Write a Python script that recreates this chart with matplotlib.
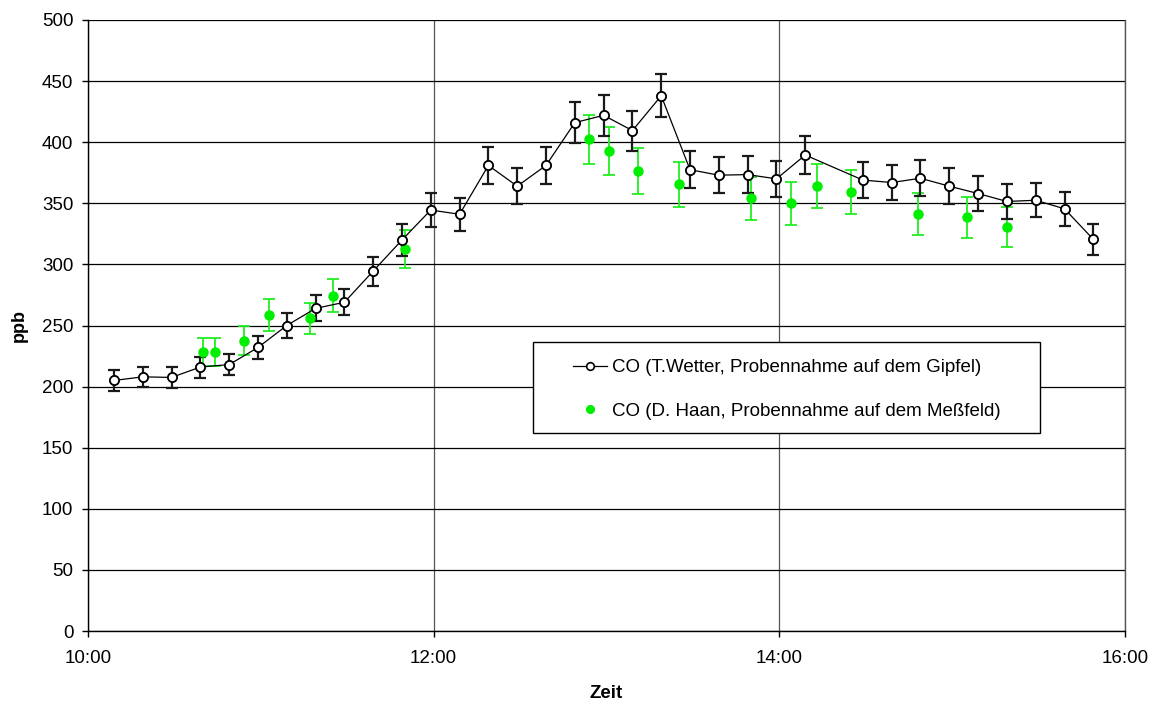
import matplotlib
matplotlib.use("Agg")
import matplotlib.pyplot as plt
from matplotlib.patches import Rectangle

plt.rcParams['font.family'] = ['Liberation Sans', 'DejaVu Sans']

# --- data (time in minutes after 10:00) ---
wetter_t = [9, 19, 29, 39, 49, 59, 69, 79, 89, 99, 109, 119, 129, 139, 149, 159,
            169, 179, 189, 199, 209, 219, 229, 239, 249,
            269, 279, 289, 299, 309, 319, 329, 339, 349]
wetter_co = [205, 208, 207.5, 216, 218, 232, 250, 264, 269, 294.5, 320, 344.5, 341,
             381, 364, 381, 416, 422, 409.5, 438, 377.5, 373, 373.5, 370, 389.5,
             369, 367, 370.5, 364, 358, 351.5, 352.5, 345.5, 320.5]
wetter_err = [8.2, 8.3, 8.3, 8.6, 8.7, 9.3, 10.0, 10.6, 10.8, 11.8, 12.8, 13.8, 13.6,
              15.2, 14.6, 15.2, 16.6, 16.9, 16.4, 17.5, 15.1, 14.9, 14.9, 14.8, 15.6,
              14.8, 14.7, 14.8, 14.6, 14.3, 14.1, 14.1, 13.8, 12.8]

haan_t = [40, 44, 54, 63, 77, 85, 110, 174, 181, 191, 205, 230, 244, 253, 265, 288, 305, 319]
haan_co = [228.5, 228.5, 237.5, 258.5, 256, 274.5, 312.5, 402.5, 392.5, 376.5, 365.5,
           354, 350, 364, 359, 341, 338.5, 330.5]
haan_err = [11.4, 11.4, 11.9, 12.9, 12.8, 13.7, 15.6, 20.1, 19.6, 18.8, 18.3, 17.7,
            17.5, 18.2, 18.0, 17.1, 16.9, 16.5]

x_ticks = [0, 120, 240, 360]
x_ticklabels = ['10:00', '12:00', '14:00', '16:00']
y_ticks = list(range(0, 501, 50))

label_wetter = 'CO (T.Wetter, Probennahme auf dem Gipfel)'
label_haan = 'CO (D. Haan, Probennahme auf dem Meßfeld)'

green = '#00ee00'

fig = plt.figure(figsize=(11.5, 7.01), dpi=100)
ax = fig.add_axes([88/1150, 1 - 631/701, (1125-88)/1150, (631-20)/701])

# error bars
ax.errorbar(haan_t, haan_co, yerr=haan_err, fmt='none', ecolor='#22ee22',
            elinewidth=1.3, capsize=4.0, capthick=1.3, zorder=3)
ax.errorbar(wetter_t, wetter_co, yerr=wetter_err, fmt='none', ecolor='#1a1a1a',
            elinewidth=1.6, capsize=4.0, capthick=1.6, zorder=4)

# series
l1, = ax.plot(wetter_t, wetter_co, color='black', lw=0.9, marker='o', ms=6.5,
              mfc='white', mec='black', mew=1.2, zorder=6, label=label_wetter)
l2, = ax.plot(haan_t, haan_co, ls='none', marker='o', ms=6.5, mfc=green, mec=green,
              zorder=5, label=label_haan)
ax.plot(wetter_t, wetter_co, ls='none', marker='o', ms=6.5, mfc='white', mec='black',
        mew=1.2, zorder=7)

ax.set_xlim(0, 360)
ax.set_ylim(0, 500)
ax.set_xticks(x_ticks)
ax.set_xticklabels(x_ticklabels)
ax.set_yticks(y_ticks)

ax.yaxis.grid(True, color='black', lw=0.9)
ax.xaxis.grid(True, color='#555555', lw=0.9)
ax.set_axisbelow(True)

for s in ax.spines.values():
    s.set_color('black')
    s.set_linewidth(1.0)
ax.spines['top'].set_visible(False)
ax.spines['right'].set_color('#555555')

ax.tick_params(axis='y', direction='out', length=4.5, width=1, pad=6, labelsize=13.5)
ax.tick_params(axis='x', direction='out', length=4, width=1, pad=10, labelsize=13.5)

ax.set_xlabel('Zeit', fontsize=13.5, fontweight='bold', labelpad=13)
ax.set_ylabel('ppb', fontsize=13, fontweight='bold', labelpad=10)

# legend box
rect = Rectangle(((533-88)/1037, (631-433)/611), (1040-533)/1037, (433-342)/611,
                 transform=ax.transAxes, facecolor='white', edgecolor='black',
                 lw=1.0, zorder=8)
ax.add_patch(rect)
leg = ax.legend(handles=[l1, l2], loc='center left',
                bbox_to_anchor=((573-88)/1037, (631-389.5)/611),
                frameon=False, fontsize=13.5, labelspacing=1.4, handlelength=1.8,
                handletextpad=0.27, borderpad=0, borderaxespad=0, numpoints=1)
leg.set_zorder(9)
for h in leg.legend_handles:
    h.set_markersize(5.5)

fig.savefig('out.png', dpi=100)
